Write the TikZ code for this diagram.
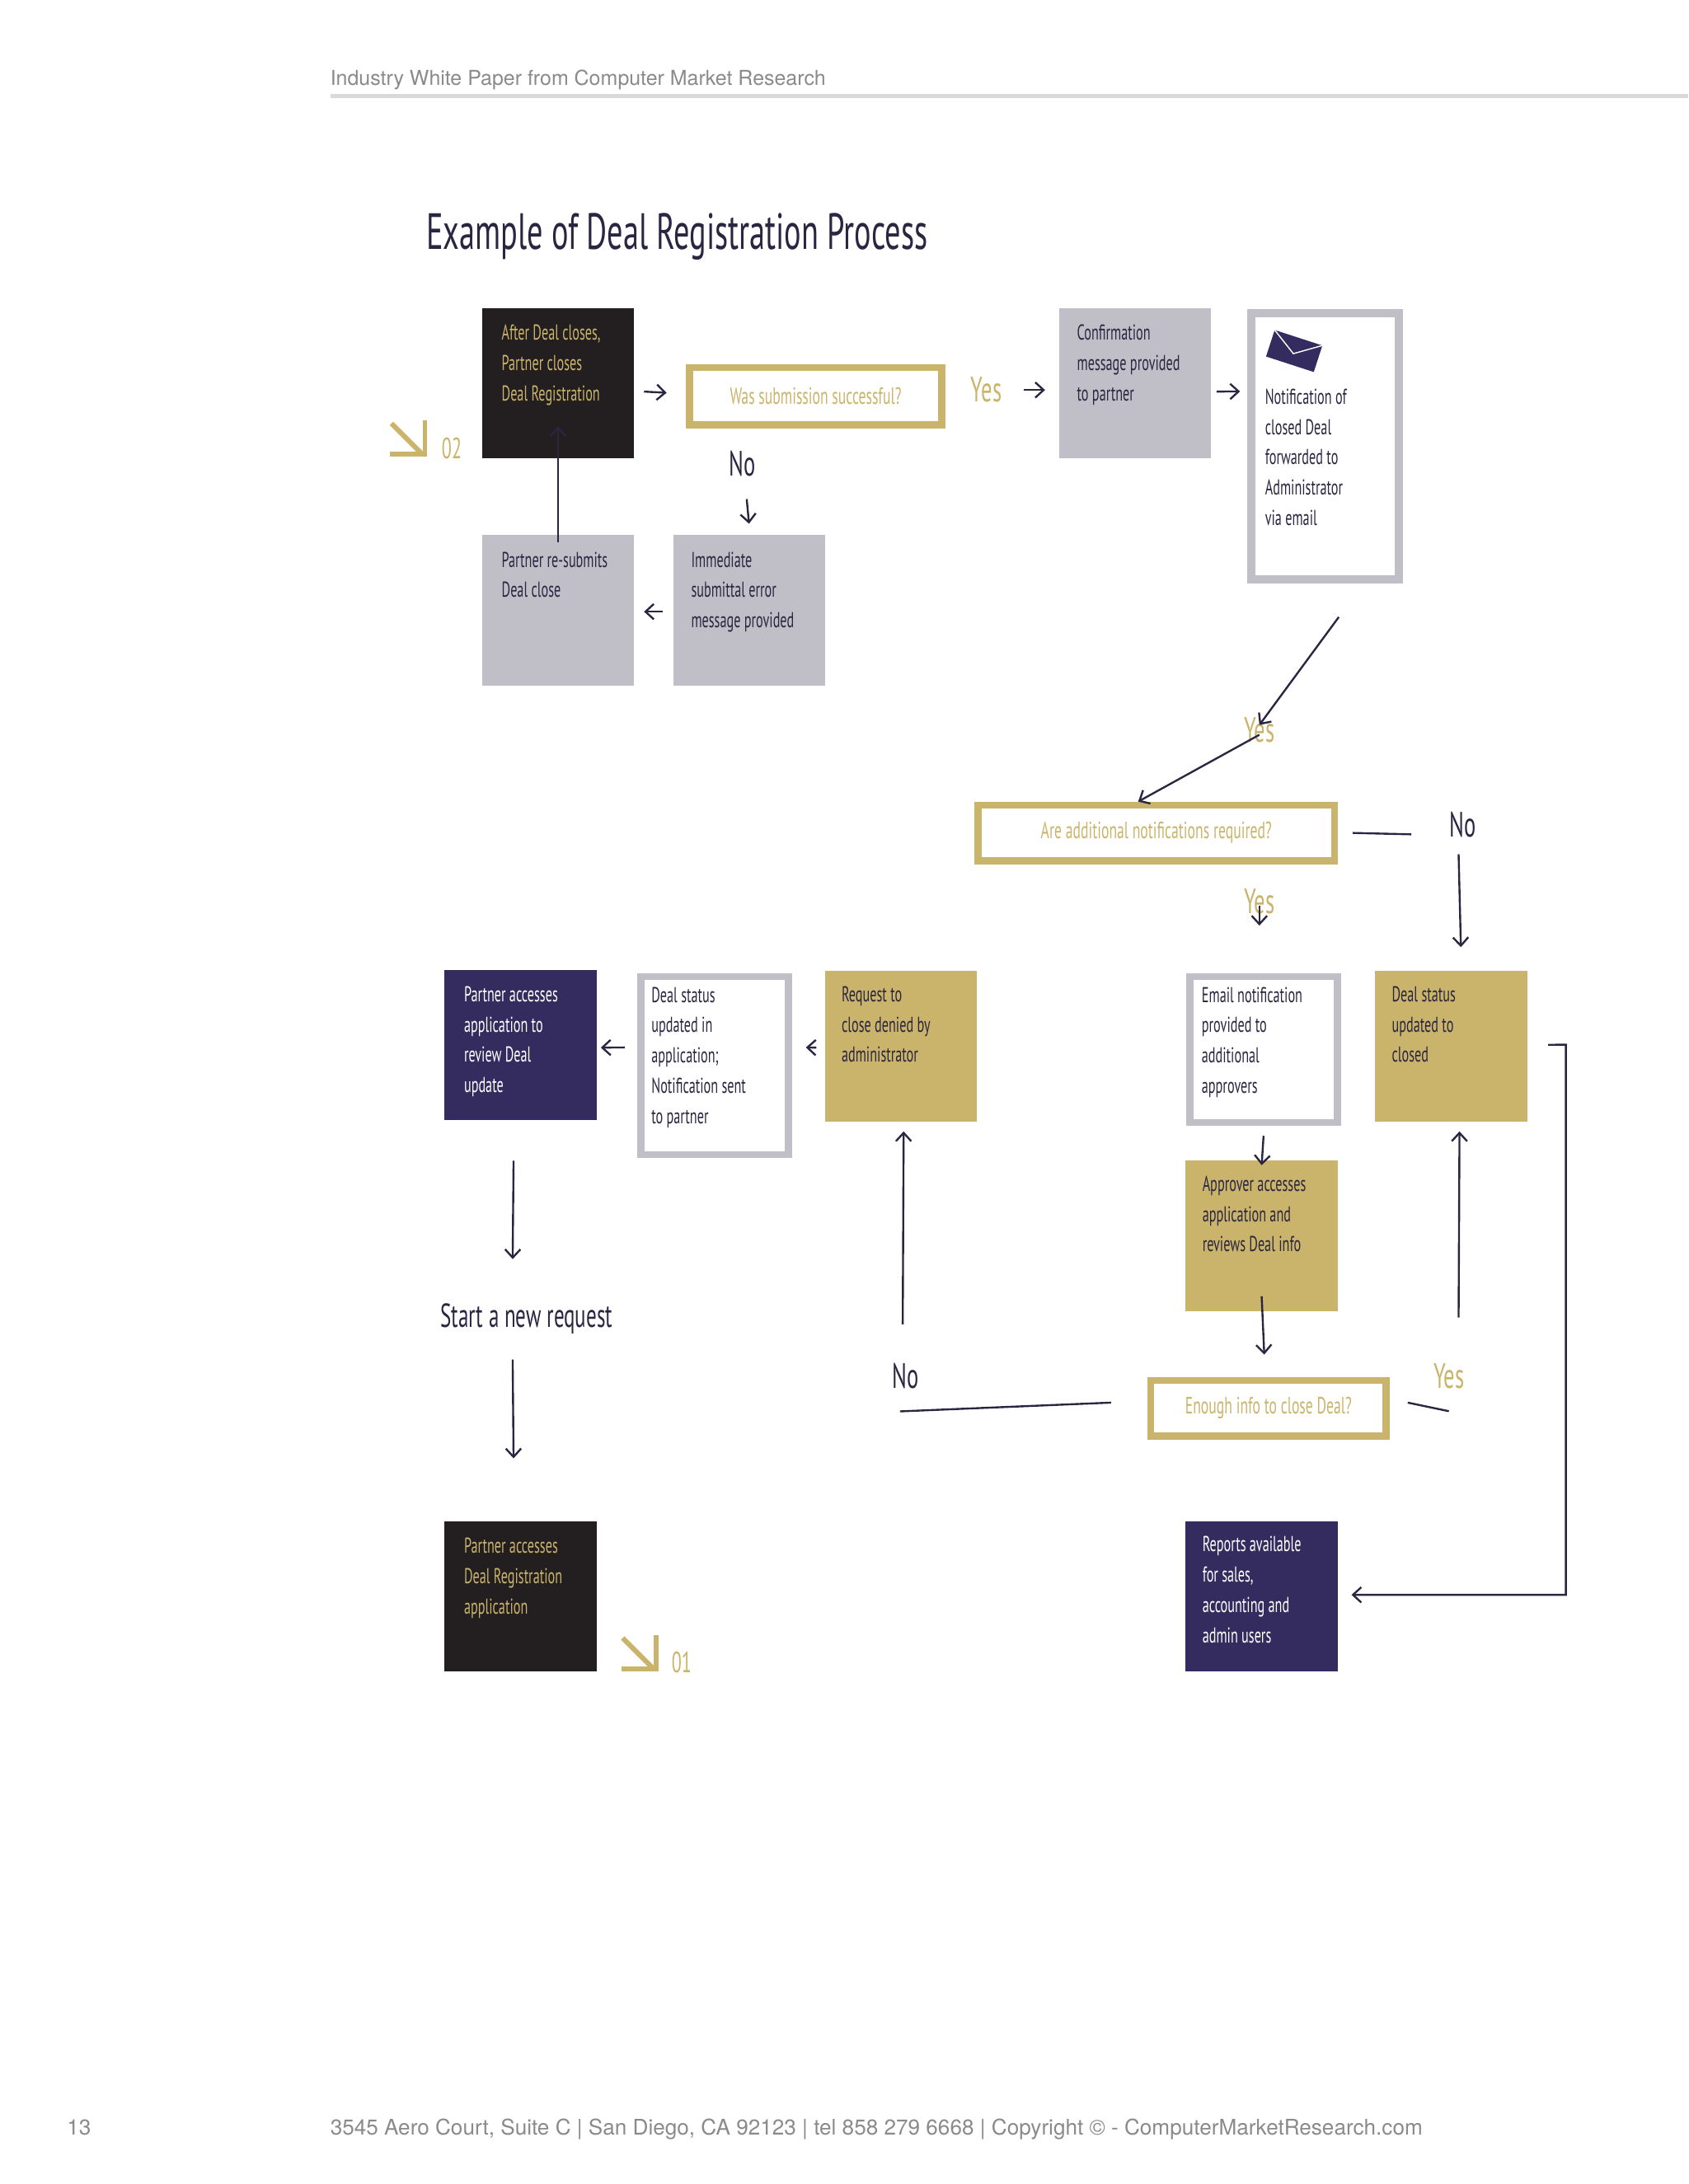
\documentclass[tikz,border=0pt]{standalone}
\usepackage{fontspec}
\setmainfont{TeX Gyre Heros}
\newfontfamily\cond{PT Sans}[FakeStretch=0.62]
\usetikzlibrary{arrows.meta, positioning}
\definecolor{dealblack}{HTML}{231F20}
\definecolor{dealgray}{HTML}{C0BFC7}
\definecolor{dealgold}{HTML}{CAB36B}
\definecolor{dealnavy}{HTML}{342B5E}
\definecolor{dealink}{HTML}{2A2540}
\definecolor{pagegray}{HTML}{8A8A8A}
\tikzset{
  box/.style={anchor=north west, minimum width=5.45cm, minimum height=5.4cm, inner sep=0pt},
  outline/.style={anchor=north west, draw=#1, line width=0.25cm, inner sep=0pt},
  txt/.style={anchor=north west, align=left, inner sep=0pt, font=\cond\fontsize{22}{31}\selectfont},
  lbl/.style={inner sep=0pt, font=\cond\fontsize{36}{40}\selectfont},
  arr/.style={-{Straight Barb[length=0.3cm,width=0.55cm]}, line width=2pt, dealink},
  conn/.style={line width=2pt, dealink},
  corner/.style={line width=5pt, dealgold, line cap=butt}
}
\begin{document}
\begin{tikzpicture}[x=0.05cm, y=-0.05cm]
\useasboundingbox (0,0) rectangle (1212,1568);

% page furniture
\node[anchor=base west, inner sep=0pt, text=pagegray, font=\fontsize{21}{24}\selectfont] (head) at (237,61) {Industry White Paper from Computer Market Research};
\draw[line width=4pt, black!15] (237,69) -- (1212,69);
\node[anchor=base west, inner sep=0pt, text=dealink, font=\cond\fontsize{52}{56}\selectfont] (title) at (306,179) {Example of Deal Registration Process};
\node[anchor=base west, inner sep=0pt, text=pagegray, font=\fontsize{22}{24}\selectfont] (page) at (48,1533) {13};
\node[anchor=base west, inner sep=0pt, text=pagegray, font=\fontsize{22}{24}\selectfont] (foot) at (237,1533) {3545 Aero Court, Suite C | San Diego, CA 92123 | tel 858 279 6668 | Copyright © - ComputerMarketResearch.com};

% top loop
\node[box, fill=dealblack] (A) at (346,221) {};
\node[txt, text=dealgold] at ([shift={(14,12)}]A.north west) {After Deal closes,\\Partner closes\\Deal Registration};
\node[outline=dealgold, minimum width=9.05cm, minimum height=2.05cm, text=dealgold, font=\cond\fontsize{24}{28}\selectfont] (B) at (492.5,261.5) {Was submission successful?};
\node[box, fill=dealgray] (C) at (760,221) {};
\node[txt, text=dealink] at ([shift={(13,12)}]C.north west) {Confirmation\\message provided\\to partner};
\node[outline=dealgray, line width=0.3cm, minimum width=5.3cm, minimum height=9.55cm] (D) at (895,222) {};
\node[txt, text=dealink] at ([shift={(13,57)}]D.north west) {Notification of\\closed Deal\\forwarded to\\Administrator\\via email};
\node[box, fill=dealgray] (E) at (483,384) {};
\node[txt, text=dealink] at ([shift={(13,12)}]E.north west) {Immediate\\submittal error\\message provided};
\node[box, fill=dealgray] (F) at (346,384) {};
\node[txt, text=dealink] at ([shift={(14,12)}]F.north west) {Partner re-submits\\Deal close};

% envelope
\begin{scope}[shift={(929,252)}, rotate=-18]
  \fill[dealnavy] (-18,-10) rectangle (18,10);
  \draw[white, line width=1.2pt] (-18,-10) -- (0,2) -- (18,-10);
\end{scope}

% marker 02
\draw[corner] (281,304) -- (303,326);
\draw[corner] (280,326) -- (305,326) -- (305,302);
\node[lbl, text=dealgold, anchor=base west, font=\cond\fontsize{30}{32}\selectfont] (m02) at (317,329) {02};

\node[lbl, text=dealgold] (yes1) at (708,280) {Yes};
\node[lbl, text=dealink] (no1) at (533,333) {No};

\draw[arr] ([shift={(7,6)}]A.east) -- ([shift={(-14,-2.5)}]B.west);
\draw[arr] ([xshift=22]yes1.east) -- ([xshift=-14]C.west |- yes1.east);
\draw[arr] ([shift={(4,6)}]C.east) -- ([xshift=-7]D.west |- {(0,281)});
\draw[arr] ([shift={(3,16)}]no1.south) -- ([shift={(0,-8)}]E.north);
\draw[arr] ([shift={(-7,1)}]E.west) -- ([shift={(7,1)}]F.east);
\draw[arr] ([yshift=-8]F.north) -- ([yshift=33]A.south);

% middle decision
\node[lbl, text=dealgold] (yes2) at (904,524) {Yes};
\draw[arr] ([shift={(10,24)}]D.south) -- ([yshift=-8]yes2.north);
\node[outline=dealgold, minimum width=12.8cm, minimum height=2cm, text=dealgold, font=\cond\fontsize{24}{28}\selectfont] (G) at (699.5,575.5) {Are additional notifications required?};
\draw[arr] ([yshift=8]yes2.south) -- ([xshift=-18.5]G.north);
\node[lbl, text=dealink] (no2) at (1050,592) {No};
\coordinate (gno) at (1013,599);
\draw[conn] ([xshift=15]G.east) -- (gno);
\node[lbl, text=dealgold] (yes3) at (904,647) {Yes};
\draw[arr] ([yshift=8]yes3.south) -- ++(0,14);

\node[outline=dealgray, minimum width=5.3cm, minimum height=5.25cm] (H) at (851.5,698.5) {};
\node[txt, text=dealink] at ([shift={(11,10)}]H.north west) {Email notification\\provided to\\additional\\approvers};
\node[box, fill=dealgold] (I) at (987,697) {};
\node[txt, text=dealink] at ([shift={(12,11)}]I.north west) {Deal status\\updated to\\closed};
\draw[arr] ([shift={(-3,12)}]no2.south) -- ([shift={(7,-17)}]I.north);
\node[box, fill=dealgold] (J) at (851,833) {};
\node[txt, text=dealink] at ([shift={(12,11)}]J.north west) {Approver accesses\\application and\\reviews Deal info};
\draw[arr] ([shift={(0,7)}]H.south) -- ([yshift=-5]J.north);
\node[outline=dealgold, minimum width=8.45cm, minimum height=2cm, text=dealgold, font=\cond\fontsize{24}{28}\selectfont] (K) at (823.5,988.5) {Enough info to close Deal?};
\draw[arr] ([yshift=15]J.south) -- ([shift={(-3,-16)}]K.north);
\node[lbl, text=dealgold] (yes4) at (1040,988) {Yes};
\draw[conn] ([shift={(13,-4)}]K.east) -- ([shift={(0,16)}]yes4.south);
\draw[arr] ([shift={(7,-33)}]yes4.north) -- ([shift={(6,7)}]I.south);

% left branch
\node[box, fill=dealgold] (L) at (592,697) {};
\node[txt, text=dealink] at ([shift={(12,11)}]L.north west) {Request to\\close denied by\\administrator};
\node[lbl, text=dealink] (no3) at (650,988) {No};
\draw[conn] ([shift={(-26,-4)}]K.west) -- ([shift={(-4,16)}]no3.south);
\draw[arr] ([shift={(-2,-28)}]no3.north) -- ([shift={(2,7)}]L.south);
\node[outline=dealgray, minimum width=5.3cm, minimum height=6.4cm] (M) at (457.5,698.5) {};
\node[txt, text=dealink] at ([shift={(10,10)}]M.north west) {Deal status\\updated in\\application;\\Notification sent\\to partner};
\draw[arr] ([shift={(-6,1)}]L.west) -- ([shift={(10,-13)}]M.east);
\node[box, fill=dealnavy] (N) at (319,696) {};
\node[txt, text=white] at ([shift={(14,12)}]N.north west) {Partner accesses\\application to\\review Deal\\update};
\draw[arr] ([shift={(-9,-13)}]M.west) -- ([shift={(3,2)}]N.east);
\node[lbl, text=dealink, font=\cond\fontsize{34}{38}\selectfont] (start) at (378,947) {Start a new request};
\draw[arr] ([shift={(-5,29)}]N.south) -- ([shift={(-10,-32)}]start.north);
\node[box, fill=dealblack] (O) at (319,1092) {};
\node[txt, text=dealgold] at ([shift={(14,12)}]O.north west) {Partner accesses\\Deal Registration\\application};
\draw[arr] ([shift={(-10,18)}]start.south) -- ([shift={(-5,-45)}]O.north);

% marker 01
\draw[corner] (447,1176) -- (469,1198);
\draw[corner] (446,1198) -- (471,1198) -- (471,1174);
\node[lbl, text=dealgold, anchor=base west, font=\cond\fontsize{30}{32}\selectfont] (m01) at (482,1201) {01};

% reports
\node[box, fill=dealnavy] (P) at (851,1092) {};
\node[txt, text=white] at ([shift={(12,11)}]P.north west) {Reports available\\for sales,\\accounting and\\admin users};
\coordinate (bend) at (1124,750);
\draw[arr] ([shift={(15,-1)}]I.east) -- (bend) |- ([xshift=14]P.east |- {(0,1145)});

\end{tikzpicture}
\end{document}
